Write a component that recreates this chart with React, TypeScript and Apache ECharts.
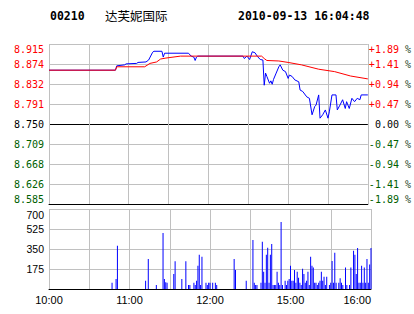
import React, { useEffect, useRef } from "react";
import * as echarts from "echarts";

// ---- data ----
const BASE = 8.75; // previous close
const STEP = 0.04125; // price grid step
const priceTickLabels = ["8.585", "8.626", "8.668", "8.709", "8.750", "8.791", "8.832", "8.874", "8.915"];
const pctTickLabels = ["-1.89", "-1.41", "-0.94", "-0.47", "\u00a00.00", "+0.47", "+0.94", "+1.41", "+1.89"];
const timeLabels: Record<number, string> = { 0: "10:00", 60: "11:00", 120: "12:00", 180: "15:00", 240: "16:00" };

// price line (minute index from 10:00, price)
const priceMinutes = [0, 50, 51, 57, 58, 66, 67, 73, 75, 78, 79, 85, 86, 87, 105, 107, 109, 110, 111, 112, 146, 147, 149, 151, 153, 155, 157, 159, 161, 162, 163, 164, 166, 167, 168, 169, 171, 173, 174, 176, 178, 180, 181, 183, 185, 188, 189, 191, 194, 196, 198, 200, 201, 203, 204, 206, 208, 210, 211, 213, 216, 217, 219, 221, 223, 224, 226, 228, 230, 232, 234, 235, 240];
const pricePrices = [8.861, 8.861, 8.87, 8.872, 8.874, 8.875, 8.877, 8.878, 8.882, 8.898, 8.9, 8.9, 8.888, 8.896, 8.896, 8.89, 8.888, 8.881, 8.888, 8.89, 8.89, 8.885, 8.89, 8.883, 8.899, 8.897, 8.889, 8.883, 8.882, 8.83, 8.855, 8.848, 8.834, 8.839, 8.832, 8.842, 8.855, 8.868, 8.872, 8.861, 8.858, 8.844, 8.851, 8.848, 8.841, 8.837, 8.82, 8.817, 8.806, 8.803, 8.769, 8.786, 8.789, 8.81, 8.762, 8.769, 8.779, 8.762, 8.775, 8.81, 8.81, 8.779, 8.789, 8.8, 8.782, 8.796, 8.782, 8.803, 8.796, 8.803, 8.8, 8.81, 8.81];

// average price line
const avgMinutes = [0, 50, 51, 72, 76, 81, 84, 88, 99, 160, 162, 164, 173, 180, 190, 203, 215, 227, 240];
const avgPrices = [8.861, 8.861, 8.868, 8.868, 8.875, 8.878, 8.884, 8.886, 8.89, 8.89, 8.885, 8.881, 8.88, 8.877, 8.872, 8.863, 8.858, 8.849, 8.843];

// volume bars
const volMinutes = [47, 50, 51, 72, 74, 80, 85, 86, 87, 88, 93, 94, 99, 102, 104, 105, 108, 109, 110, 111, 112, 113, 114, 117, 118, 119, 120, 122, 124, 125, 138, 139, 147, 152, 153, 154, 155, 158, 159, 160, 161, 162, 163, 164, 165, 166, 167, 168, 169, 170, 171, 172, 173, 174, 176, 177, 178, 179, 180, 181, 182, 183, 184, 185, 186, 187, 188, 189, 190, 191, 192, 193, 194, 195, 196, 197, 198, 199, 200, 201, 202, 203, 204, 205, 206, 207, 209, 210, 211, 212, 213, 214, 216, 217, 218, 219, 221, 222, 224, 225, 227, 228, 229, 230, 231, 232, 233, 234, 235, 236, 237, 238, 239, 240];
const volValues = [55, 88, 379, 73, 262, 35, 490, 88, 58, 55, 131, 242, 88, 242, 35, 35, 55, 35, 73, 204, 300, 35, 283, 55, 35, 55, 55, 55, 55, 35, 262, 166, 73, 429, 55, 35, 35, 55, 414, 151, 55, 300, 361, 55, 300, 394, 35, 35, 35, 151, 55, 35, 586, 35, 73, 35, 73, 88, 204, 73, 73, 166, 55, 151, 99, 55, 35, 178, 131, 55, 73, 151, 35, 283, 204, 189, 55, 55, 35, 55, 73, 151, 73, 108, 35, 108, 35, 55, 245, 55, 318, 55, 55, 93, 55, 35, 189, 35, 35, 189, 335, 300, 131, 359, 55, 55, 204, 55, 189, 55, 262, 55, 215, 359];

const GREY = "#c0c0c0";
const RED = "#ff0000";
const GREEN = "#006000";
const BLUE = "#0000ff";
const MONO = "'DejaVu Sans Mono', 'Liberation Mono', monospace";
const SANS = "'Liberation Sans', Arial, sans-serif";

const idxOf = (v: number) => Math.round(v / STEP) + 4;
const signColor = (v: number) => (Math.abs(v) < 1e-6 ? "#000000" : v > 0 ? RED : GREEN);

export default function App() {
  const ref = useRef<HTMLDivElement>(null);
  useEffect(() => {
    if (!ref.current) return;
    const chart = echarts.init(ref.current, null, { renderer: "svg" });
    const priceData = priceMinutes.map((m, i) => [m, +(pricePrices[i] - BASE).toFixed(5)]);
    const avgData = avgMinutes.map((m, i) => [m, +(avgPrices[i] - BASE).toFixed(5)]);
    const volData = volMinutes.map((m, i) => [m, volValues[i]]);
    const splitColors = priceTickLabels.map((_, i) => (i === 0 || i === 4 ? "#000000" : GREY));

    chart.setOption({
      animation: false,
      backgroundColor: "#ffffff",
      graphic: [
        { type: "text", left: 50, top: 10, style: { text: "00210", font: `bold 11.5px ${MONO}`, fill: "#000" } },
        { type: "text", left: 105, top: 9, style: { text: "达芙妮国际", font: "12.5px 'Noto Sans CJK SC'", fill: "#000" } },
        { type: "text", left: 238, top: 10, style: { text: "2010-09-13 16:04:48", font: `bold 11.5px ${MONO}`, fill: "#000" } },
      ],
      grid: [
        { left: 49, top: 44, width: 322, height: 160, show: false },
        { left: 49, top: 209, width: 322, height: 80, show: false },
      ],
      xAxis: [
        {
          type: "value", gridIndex: 0, min: 0, max: 240, interval: 30,
          axisLabel: { show: false }, axisTick: { show: false },
          axisLine: { show: true, onZero: false, lineStyle: { color: "#000", width: 1 } },
          splitLine: { show: true, lineStyle: { color: GREY, width: 1 } },
        },
        {
          type: "value", gridIndex: 1, min: 0, max: 240, interval: 30,
          axisTick: { show: false },
          axisLine: { show: true, onZero: false, lineStyle: { color: "#000", width: 1 } },
          splitLine: { show: true, lineStyle: { color: GREY, width: 1 } },
          axisLabel: {
            show: true, margin: 5, color: "#000", fontFamily: SANS, fontSize: 11,
            formatter: (v: number) => timeLabels[v] ?? "",
            alignMaxLabel: "right",
          },
        },
      ],
      yAxis: [
        {
          type: "value", gridIndex: 0, position: "left", min: -4 * STEP, max: 4 * STEP, interval: STEP,
          axisLine: { show: false }, axisTick: { show: false },
          splitLine: { show: true, lineStyle: { color: splitColors, width: 1 } },
          axisLabel: {
            margin: 5, fontFamily: MONO, fontSize: 10,
            formatter: (v: number) => priceTickLabels[idxOf(v)] ?? "",
            color: (v: any) => signColor(Number(v)),
            verticalAlignMaxLabel: "top", verticalAlignMinLabel: "bottom",
          },
        },
        {
          type: "value", gridIndex: 0, position: "right", min: -4 * STEP, max: 4 * STEP, interval: STEP,
          axisLine: { show: false }, axisTick: { show: false }, splitLine: { show: false },
          axisLabel: {
            margin: 1, fontFamily: MONO, fontSize: 10,
            formatter: (v: number) => `${pctTickLabels[idxOf(v)] ?? ""}{p|\u00a0%}`,
            color: (v: any) => signColor(Number(v)),
            rich: { p: { color: "#2a4a2a", fontFamily: MONO, fontSize: 10 } },
            verticalAlignMaxLabel: "top", verticalAlignMinLabel: "bottom",
          },
        },
        {
          type: "value", gridIndex: 1, position: "left", min: 0, max: 700, interval: 175,
          axisLine: { show: false }, axisTick: { show: false },
          splitLine: { show: true, lineStyle: { color: GREY, width: 1 } },
          axisLabel: {
            margin: 5, fontFamily: SANS, fontSize: 10.5, color: "#000",
            formatter: (v: number) => (v === 0 ? "" : String(v)),
            verticalAlignMaxLabel: "top",
          },
        },
      ],
      series: [
        {
          type: "line", xAxisIndex: 0, yAxisIndex: 0, data: priceData, showSymbol: false,
          lineStyle: { color: BLUE, width: 1 }, z: 3,
        },
        {
          type: "line", xAxisIndex: 0, yAxisIndex: 0, data: avgData, showSymbol: false,
          lineStyle: { color: RED, width: 1 }, z: 4,
        },
        {
          type: "bar", xAxisIndex: 1, yAxisIndex: 2, data: volData, barWidth: 1,
          itemStyle: { color: BLUE }, z: 3,
        },
      ],
    });
    return () => chart.dispose();
  }, []);
  return <div ref={ref} style={{ position: "absolute", left: 0, top: 0, width: 414, height: 314 }} />;
}
